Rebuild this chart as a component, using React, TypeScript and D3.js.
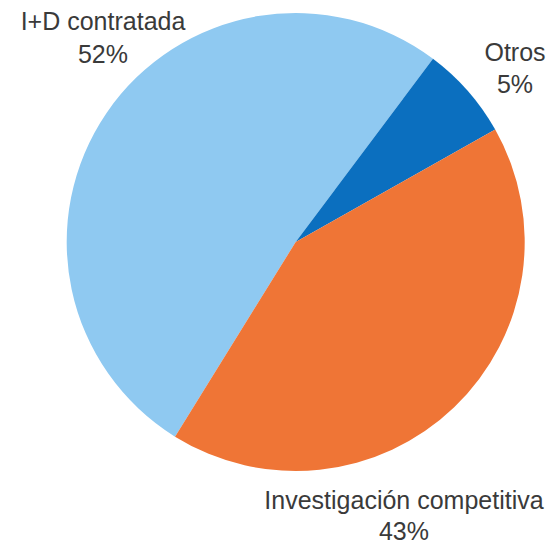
import React from "react";
import * as d3 from "d3";

const categories = ["I+D contratada", "Otros", "Investigación competitiva"];
const values = [51.4, 6.6, 42.0];
const pctLabels = ["52%", "5%", "43%"];
const colors = ["#8fc9f1", "#0b6fbf", "#ef7536"];

const W = 552;
const H = 546;
const cx = 295.7;
const cy = 242;
const R = 229;
const startDeg = 211.8;

// label anchor positions (centre x, first baseline y, line gap)
const labelPos = [
  { x: 103, y: 30, gap: 33 },
  { x: 515, y: 61, gap: 32 },
  { x: 404, y: 509, gap: 31 },
];

export default function App() {
  const pie = d3
    .pie<number>()
    .sort(null)
    .value((d) => d)
    .startAngle((startDeg * Math.PI) / 180)
    .endAngle(((startDeg + 360) * Math.PI) / 180);
  const arcs = pie(values);
  const arc = d3.arc<d3.PieArcDatum<number>>().innerRadius(0).outerRadius(R);

  return (
    <svg
      width={W}
      height={H}
      style={{ position: "absolute", left: 0, top: 0, background: "#fff" }}
    >
      <g transform={`translate(${cx},${cy})`}>
        {arcs.map((a, i) => (
          <path key={i} d={arc(a) || ""} fill={colors[i]} />
        ))}
      </g>
      {categories.map((c, i) => (
        <text
          key={c}
          textAnchor="middle"
          fontFamily="'Liberation Sans', Arial, sans-serif"
          fontSize={25}
          fill="#3a3a3a"
        >
          <tspan x={labelPos[i].x} y={labelPos[i].y}>
            {c}
          </tspan>
          <tspan x={labelPos[i].x} y={labelPos[i].y + labelPos[i].gap}>
            {pctLabels[i]}
          </tspan>
        </text>
      ))}
    </svg>
  );
}
